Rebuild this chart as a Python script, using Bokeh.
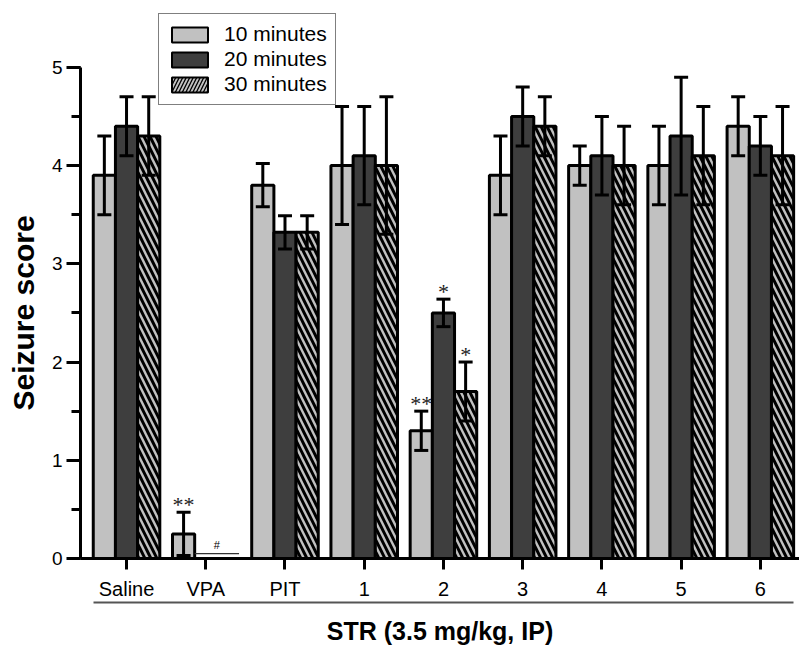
from bokeh.plotting import figure
from bokeh.models import (ColumnDataSource, Whisker, TeeHead, Legend, LegendItem,
                          FixedTicker, SingleIntervalTicker, LinearAxis, Range1d, Title)
from bokeh.core.properties import value
from bokeh.embed import file_html
from bokeh.resources import INLINE

# ---------------- data ----------------
categories = ["Saline", "VPA", "PIT", "1", "2", "3", "4", "5", "6"]
series_labels = ["10 minutes", "20 minutes", "30 minutes"]

mean_10 = [3.9, 0.25, 3.8, 4.0, 1.3, 3.9, 4.0, 4.0, 4.4]
err_10 = [0.4, 0.22, 0.22, 0.6, 0.2, 0.4, 0.2, 0.4, 0.3]
mean_20 = [4.4, 0.0, 3.32, 4.1, 2.5, 4.5, 4.1, 4.3, 4.2]
err_20 = [0.3, 0.0, 0.17, 0.5, 0.14, 0.3, 0.4, 0.6, 0.3]
mean_30 = [4.3, 0.0, 3.32, 4.0, 1.7, 4.4, 4.0, 4.1, 4.1]
err_30 = [0.4, 0.0, 0.17, 0.7, 0.3, 0.3, 0.4, 0.5, 0.5]

y_ticks = [0, 1, 2, 3, 4, 5]

# significance marks: (category, series index, text)
sig_categories = ["VPA", "2", "2", "2"]
sig_series = [0, 0, 1, 2]
sig_texts = ["**", "**", "*", "*"]

zero_mark_category = "VPA"
zero_mark_level = 0.05
zero_mark_text = "#"

x_title = "STR (3.5 mg/kg, IP)"
y_title = "Seizure score"

# ---------------- style ----------------
FONT = "Liberation Sans"
LIGHT = "#c1c1c1"
DARK = "#3e3e3e"
BAR_W = 0.28
offsets = [-BAR_W, 0.0, BAR_W]

means = [mean_10, mean_20, mean_30]
errs = [err_10, err_20, err_30]
styles = [
    dict(fill_color=LIGHT),
    dict(fill_color=DARK),
    dict(fill_color=LIGHT, hatch_pattern="left_diagonal_line", hatch_color="black",
         hatch_scale=12, hatch_weight=3),
]
legend_styles = [
    dict(fill_color=LIGHT),
    dict(fill_color=DARK),
    dict(fill_color=LIGHT, hatch_pattern="right_diagonal_line", hatch_color="black",
         hatch_scale=7, hatch_weight=1.3),
]

Y_MAX = max(y_ticks)
p = figure(width=799, height=647,
           x_range=Range1d(-0.581, 8.494), y_range=Range1d(0, Y_MAX + 0.68),
           output_backend="svg", toolbar_location=None,
           min_border_left=79, min_border_top=0, min_border_right=0,
           min_border_bottom=87)
p.outline_line_color = None
p.grid.visible = False
p.background_fill_color = "white"

idx = list(range(len(categories)))

for s in range(3):
    xs, tops, ups, lows = [], [], [], []
    for i in idx:
        m = means[s][i]
        if m <= 0:
            continue
        xs.append(i + offsets[s])
        tops.append(m)
        ups.append(m + errs[s][i])
        lows.append(m - errs[s][i])
    src = ColumnDataSource(dict(x=xs, top=tops, upper=ups, lower=lows))
    p.vbar(x="x", top="top", bottom=0, width=BAR_W, source=src,
           line_color="black", line_width=3, **styles[s])
    w = Whisker(base="x", upper="upper", lower="lower", source=src,
                dimension="height", line_color="black", line_width=3,
                upper_head=TeeHead(size=14, line_color="black", line_width=3),
                lower_head=TeeHead(size=14, line_color="black", line_width=3),
                level="annotation")
    p.add_layout(w)

# significance marks
sx, sy = [], []
for c, s in zip(sig_categories, sig_series):
    i = categories.index(c)
    sx.append(i + offsets[s])
    sy.append(means[s][i] + errs[s][i])
p.text(x=sx, y=sy, text=sig_texts, text_font=value("Liberation Serif"),
       text_font_size="22px", text_align="center", text_baseline="alphabetic",
       y_offset=-8, text_color="#222222")

# zero marker for VPA 20/30 min
zi = categories.index(zero_mark_category)
zx0 = zi + offsets[1] - BAR_W / 2
zx1 = zi + offsets[2] + BAR_W / 2
p.segment(x0=[zx0], y0=[zero_mark_level], x1=[zx1], y1=[zero_mark_level],
          line_color="#333333", line_width=1.3)
p.text(x=[(zx0 + zx1) / 2], y=[zero_mark_level], text=[zero_mark_text],
       text_font=value(FONT), text_font_size="11px", text_align="center",
       text_baseline="alphabetic", y_offset=-9, text_color="black")

# legend (placeholder renderers that draw nothing in the plot)
nan = float("nan")
items = []
for s in range(3):
    r = p.vbar(x=[nan], top=[nan], width=BAR_W, line_color="black", line_width=2,
               **legend_styles[s])
    items.append(LegendItem(label=series_labels[s], renderers=[r]))
legend = Legend(items=items, location=(78, 453), orientation="vertical",
                label_text_font=FONT, label_text_font_size="21px",
                label_text_color="black", glyph_width=45, glyph_height=19,
                label_standoff=12, padding=8, spacing=1, margin=0,
                label_height=19,
                border_line_color="black", border_line_width=1.5,
                background_fill_color="white", background_fill_alpha=1.0)
p.add_layout(legend)

# y axis
ya = p.yaxis[0]
ya.ticker = SingleIntervalTicker(interval=1, num_minor_ticks=2)
ya.bounds = (0, Y_MAX)
ya.axis_line_width = 3
ya.major_tick_line_width = 3
ya.minor_tick_line_width = 3
ya.major_tick_out = 14
ya.major_tick_in = 0
ya.minor_tick_out = 9
ya.minor_tick_in = 0
ya.major_label_text_font = FONT
ya.major_label_text_font_size = "19px"
ya.major_label_text_color = "black"
ya.major_label_standoff = 4

# y title on the left
yt = Title(text=y_title, align="left", offset=148, vertical_align="top",
           standoff=13, text_font=FONT, text_font_size="30px",
           text_font_style="bold", text_color="black")
p.add_layout(yt, "left")

# x axis (categories)
xa = p.xaxis[0]
xa.ticker = FixedTicker(ticks=idx)
xa.major_label_overrides = {i: c for i, c in zip(idx, categories)}
xa.axis_line_width = 3
xa.major_tick_line_width = 3
xa.major_tick_out = 11
xa.major_tick_in = 0
xa.minor_tick_out = 0
xa.minor_tick_in = 0
xa.major_label_text_font = FONT
xa.major_label_text_font_size = "20px"
xa.major_label_text_color = "black"
xa.major_label_standoff = 8

# group line + title below
ga = LinearAxis(ticker=FixedTicker(ticks=[]), bounds=(-0.421, 8.419))
ga.axis_line_color = "#555555"
ga.axis_line_width = 2
ga.major_tick_out = 0
ga.major_tick_in = 0
ga.minor_tick_out = 0
ga.minor_tick_in = 0
ga.major_label_text_font_size = "0px"
ga.axis_label = x_title
ga.axis_label_text_font = FONT
ga.axis_label_text_font_size = "25px"
ga.axis_label_text_font_style = "bold"
ga.axis_label_text_color = "black"
ga.axis_label_standoff = 14
p.add_layout(ga, "below")

open("out.html", "w").write(file_html(p, INLINE))
